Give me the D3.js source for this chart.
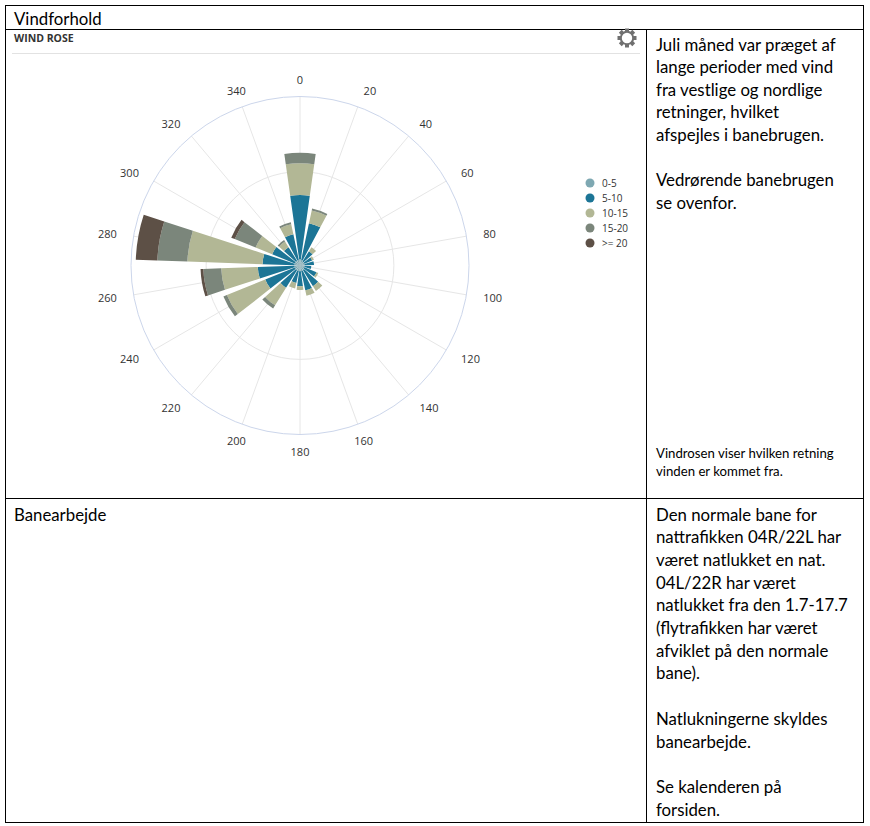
<!DOCTYPE html>
<html>
<head>
<meta charset="utf-8">
<script src="https://cdn.jsdelivr.net/npm/d3@7"></script>
<style>
  body { margin: 0; background: #ffffff; }
  svg { display: block; }
</style>
</head>
<body>
<svg id="page"></svg>
<script>
console.log("wind rose page loaded");

//compass directions of the bars, one bar every 20 degrees
var directions = [0, 20, 40, 60, 80, 100, 120, 140, 160, 180, 200, 220, 240, 260, 280, 300, 320, 340];

//wind speed classes shown in the legend
var speedBins = ["0-5", "5-10", "10-15", "15-20", ">= 20"];

//frequency (percent) of every speed class per direction
var freq0to5   = [0.7, 0.6, 0.5, 0.5, 0.5, 0.5, 0.5, 0.6, 0.6, 0.6, 0.6, 0.6, 0.6, 0.6, 0.6, 0.6, 0.6, 0.6];
var freq5to10  = [6.8, 4.0, 1.3, 0.9, 1.0, 0.7, 1.4, 2.0, 2.1, 1.6, 1.3, 2.2, 3.4, 3.9, 3.4, 2.6, 1.7, 2.8];
var freq10to15 = [3.4, 1.4, 0.5, 0.2, 0.0, 0.0, 0.2, 0.6, 0.6, 0.4, 0.6, 2.2, 4.4, 3.9, 8.0, 1.9, 0.7, 1.1];
var freq15to20 = [1.1, 0.2, 0.0, 0.0, 0.0, 0.0, 0.0, 0.0, 0.0, 0.0, 0.0, 0.4, 0.4, 1.9, 3.2, 2.4, 0.2, 0.2];
var freqOver20 = [0.0, 0.0, 0.0, 0.0, 0.0, 0.0, 0.0, 0.0, 0.0, 0.0, 0.0, 0.0, 0.0, 0.3, 2.3, 0.4, 0.0, 0.0];

//radial axis: max value and the one grid circle inside
var radialMax = 18;
var radialTicks = [10];

//text in the right hand column of the table
var windText = ["Juli måned var præget af", "lange perioder med vind", "fra vestlige og nordlige",
                "retninger, hvilket", "afspejles i banebrugen.", "", "Vedrørende banebrugen", "se ovenfor."];
var windNote = ["Vindrosen viser hvilken retning", "vinden er kommet fra."];
var workText = ["Den normale bane for", "nattrafikken 04R/22L har", "været natlukket en nat.",
                "04L/22R har været", "natlukket fra den 1.7-17.7", "(flytrafikken har været",
                "afviklet på den normale", "bane).", "", "Natlukningerne skyldes", "banearbejde.", "",
                "Se kalenderen på", "forsiden."];

var binColors = ["#7ea8b2", "#1c7596", "#b2b795", "#7b867b", "#5d5046"];

windRose = {width : 870,
            height : 826,
            cx : 300,
            cy : 265.5,
            radius : 169,
            bodyFont : "Lato, 'Open Sans', sans-serif",
            chartFont : "'Open Sans', 'DejaVu Sans', sans-serif"
           };

windRose.svg = d3.select("#page")
  .attr("width", windRose.width)
  .attr("height", windRose.height);

//the word table that holds the chart and the notes
windRose.drawTable = function () {
  var svg = windRose.svg;
  var lines = svg.append("g")
    .attr("stroke", "#000")
    .attr("stroke-width", 1)
    .attr("fill", "none");

  lines.append("rect").attr("x", 5.5).attr("y", 5.5).attr("width", 858).attr("height", 817);
  lines.append("line").attr("x1", 5.5).attr("x2", 863.5).attr("y1", 29.5).attr("y2", 29.5);
  lines.append("line").attr("x1", 5.5).attr("x2", 863.5).attr("y1", 498.5).attr("y2", 498.5);
  lines.append("line").attr("x1", 646.5).attr("x2", 646.5).attr("y1", 29.5).attr("y2", 822.5);

  //helper that writes one block of lines
  var writeBlock = function (list, x, y, lineHeight, size) {
    svg.append("g").selectAll("text")
      .data(list)
      .join("text")
      .attr("x", x)
      .attr("y", function (d, i) { return y + i * lineHeight; })
      .attr("dominant-baseline", "central")
      .style("font-family", windRose.bodyFont)
      .style("font-size", size + "px")
      .style("fill", "#000")
      .text(function (d) { return d; });
  };

  writeBlock(["Vindforhold"], 14, 18, 0, 16.8);
  writeBlock(windText, 656, 44, 22.6, 16.8);
  writeBlock(windNote, 656, 453, 18, 13.2);
  writeBlock(["Banearbejde"], 14, 514, 0, 16.8);
  writeBlock(workText, 656, 514, 22.7, 16.8);
};

//chart title, divider and the little settings wheel
windRose.drawHeader = function () {
  var svg = windRose.svg;

  svg.append("text")
    .attr("x", 14)
    .attr("y", 38)
    .attr("dominant-baseline", "central")
    .style("font-family", windRose.chartFont)
    .style("font-size", "10.5px")
    .style("font-weight", "bold")
    .style("fill", "#333")
    .text("WIND ROSE");

  svg.append("line")
    .attr("x1", 12).attr("x2", 640)
    .attr("y1", 53.5).attr("y2", 53.5)
    .attr("stroke", "#e2e2e2");

  //gear drawn from a ring and eight teeth
  var gear = svg.append("g").attr("transform", "translate(627,38)");
  d3.range(8).forEach(function (i) {
    gear.append("rect")
      .attr("x", -2).attr("y", -9.5)
      .attr("width", 4).attr("height", 4.5)
      .attr("fill", "#707070")
      .attr("transform", "rotate(" + (i * 45) + ")");
  });
  gear.append("circle").attr("r", 6.2).attr("fill", "#fff").attr("stroke", "#707070").attr("stroke-width", 2);
};

//the polar chart itself
windRose.drawChart = function () {
  var g = windRose.svg.append("g")
    .attr("transform", "translate(" + windRose.cx + "," + windRose.cy + ")");

  //radial scale for the stacked frequencies
  var r = d3.scaleLinear()
    .domain([0, radialMax])
    .range([0, windRose.radius]);

  //angular band scale, bands centred on every direction
  var toRad = Math.PI / 180;
  var angle = d3.scaleBand()
    .domain(directions)
    .range([-10 * toRad, 350 * toRad])
    .paddingInner(0.2)
    .paddingOuter(0.1);

  //spokes
  g.append("g").selectAll("line")
    .data(directions)
    .join("line")
    .attr("x1", 0).attr("y1", 0)
    .attr("x2", function (d) { return r(radialMax) * Math.sin(d * toRad); })
    .attr("y2", function (d) { return -r(radialMax) * Math.cos(d * toRad); })
    .attr("stroke", "#e6e6e6")
    .attr("stroke-width", 1);

  //inner grid circle
  g.append("g").selectAll("circle")
    .data(radialTicks)
    .join("circle")
    .attr("r", function (d) { return r(d); })
    .attr("fill", "none")
    .attr("stroke", "#e6e6e6");

  //outer axis line
  g.append("circle")
    .attr("r", r(radialMax))
    .attr("fill", "none")
    .attr("stroke", "#ccd6eb");

  //build rows for the stack
  var seriesArrays = [freq0to5, freq5to10, freq10to15, freq15to20, freqOver20];
  var rows = directions.map(function (dir, i) {
    var row = {direction : dir};
    speedBins.forEach(function (bin, j) { row[bin] = seriesArrays[j][i]; });
    return row;
  });

  var stacked = d3.stack().keys(speedBins)(rows);

  var arc = d3.arc()
    .innerRadius(function (d) { return r(d[0]); })
    .outerRadius(function (d) { return r(d[1]); })
    .startAngle(function (d) { return angle(d.data.direction); })
    .endAngle(function (d) { return angle(d.data.direction) + angle.bandwidth(); });

  g.append("g").selectAll("g")
    .data(stacked)
    .join("g")
    .attr("fill", function (d, i) { return binColors[i]; })
    .selectAll("path")
    .data(function (d) { return d.filter(function (p) { return p[1] - p[0] > 0; }); })
    .join("path")
    .attr("d", arc);

  //direction labels, aligned the way the charting library does it
  var labelRadius = windRose.radius + 17;
  g.append("g").selectAll("text")
    .data(directions)
    .join("text")
    .attr("x", function (d) { return labelRadius * Math.sin(d * toRad); })
    .attr("y", function (d) { return -labelRadius * Math.cos(d * toRad); })
    .attr("dominant-baseline", "central")
    .attr("text-anchor", function (d) {
      if (d >= 20 && d < 160) { return "start"; }
      if (d > 200 && d < 340) { return "end"; }
      return "middle";
    })
    .style("font-family", windRose.chartFont)
    .style("font-size", "11px")
    .style("fill", "#333")
    .text(function (d) { return d; });
};

//legend to the right of the rose
windRose.drawLegend = function () {
  var legend = windRose.svg.append("g").attr("transform", "translate(590,183)");

  var item = legend.selectAll("g")
    .data(speedBins)
    .join("g")
    .attr("transform", function (d, i) { return "translate(0," + (i * 15) + ")"; });

  item.append("circle")
    .attr("r", 4.5)
    .attr("fill", function (d, i) { return binColors[i]; });

  item.append("text")
    .attr("x", 12)
    .attr("dominant-baseline", "central")
    .style("font-family", windRose.chartFont)
    .style("font-size", "10px")
    .style("fill", "#333")
    .text(function (d) { return d; });
};

windRose.drawTable();
windRose.drawHeader();
windRose.drawChart();
windRose.drawLegend();
</script>
</body>
</html>
